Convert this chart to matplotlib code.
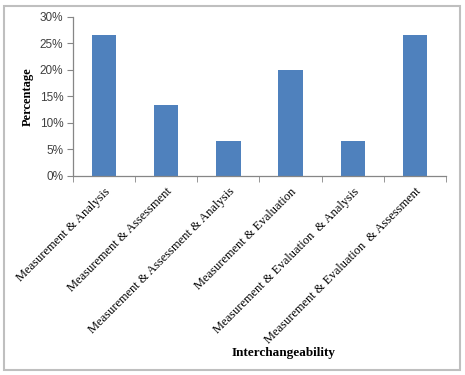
import matplotlib
matplotlib.use("Agg")
import matplotlib.pyplot as plt
from matplotlib.patches import Rectangle
from matplotlib.ticker import FuncFormatter, MultipleLocator

categories = [
    "Measurement & Analysis",
    "Measurement & Assessment",
    "Measurement & Assessment & Analysis",
    "Measurement & Evaluation",
    "Measurement & Evaluation  & Analysis",
    "Measurement & Evaluation  & Assessment",
]
percentages = [26.67, 13.33, 6.67, 20.0, 6.67, 26.67]

BAR_COLOR = "#4F81BD"
AXIS_COLOR = "#868686"

fig = plt.figure(figsize=(4.65, 3.75), dpi=100)
ax = fig.add_axes([0.157, 0.531, 0.802, 0.424])

x = list(range(len(categories)))
ax.bar(x, percentages, width=0.39, color=BAR_COLOR, zorder=2)

ax.set_xlim(-0.5, len(categories) - 0.5)
ax.set_ylim(0, 30)
ax.yaxis.set_major_locator(MultipleLocator(5))
ax.yaxis.set_major_formatter(FuncFormatter(lambda v, _: f"{v:.0f}%"))

# category labels, tick marks between categories
ax.set_xticks(x)
ax.set_xticklabels(categories, rotation=45, ha="right", rotation_mode="anchor",
                   family="Liberation Serif", fontsize=9)
ax.set_xticks([i - 0.5 for i in range(len(categories) + 1)], minor=True)
ax.tick_params(axis="x", which="major", length=0, pad=7)
ax.tick_params(axis="x", which="minor", length=4, color=AXIS_COLOR, direction="out")
ax.tick_params(axis="y", length=4, color=AXIS_COLOR, labelsize=8.5, pad=3)
for lbl in ax.get_yticklabels():
    lbl.set_family("Liberation Sans")
    lbl.set_color("#404040")

for side in ("top", "right"):
    ax.spines[side].set_visible(False)
for side in ("left", "bottom"):
    ax.spines[side].set_color(AXIS_COLOR)
    ax.spines[side].set_linewidth(0.9)

ax.set_ylabel("Percentage", family="Liberation Serif", fontweight="bold", fontsize=9, labelpad=4)
fig.text(0.609, 0.059, "Interchangeability", family="Liberation Serif", fontweight="bold",
         fontsize=9.5, ha="center", va="center")

# outer chart border
fig.patches.append(Rectangle((0.008, 0.013), 0.982, 0.972, transform=fig.transFigure,
                             fill=False, edgecolor="#BFBFBF", linewidth=1.5))

fig.savefig("out.png", dpi=100)
